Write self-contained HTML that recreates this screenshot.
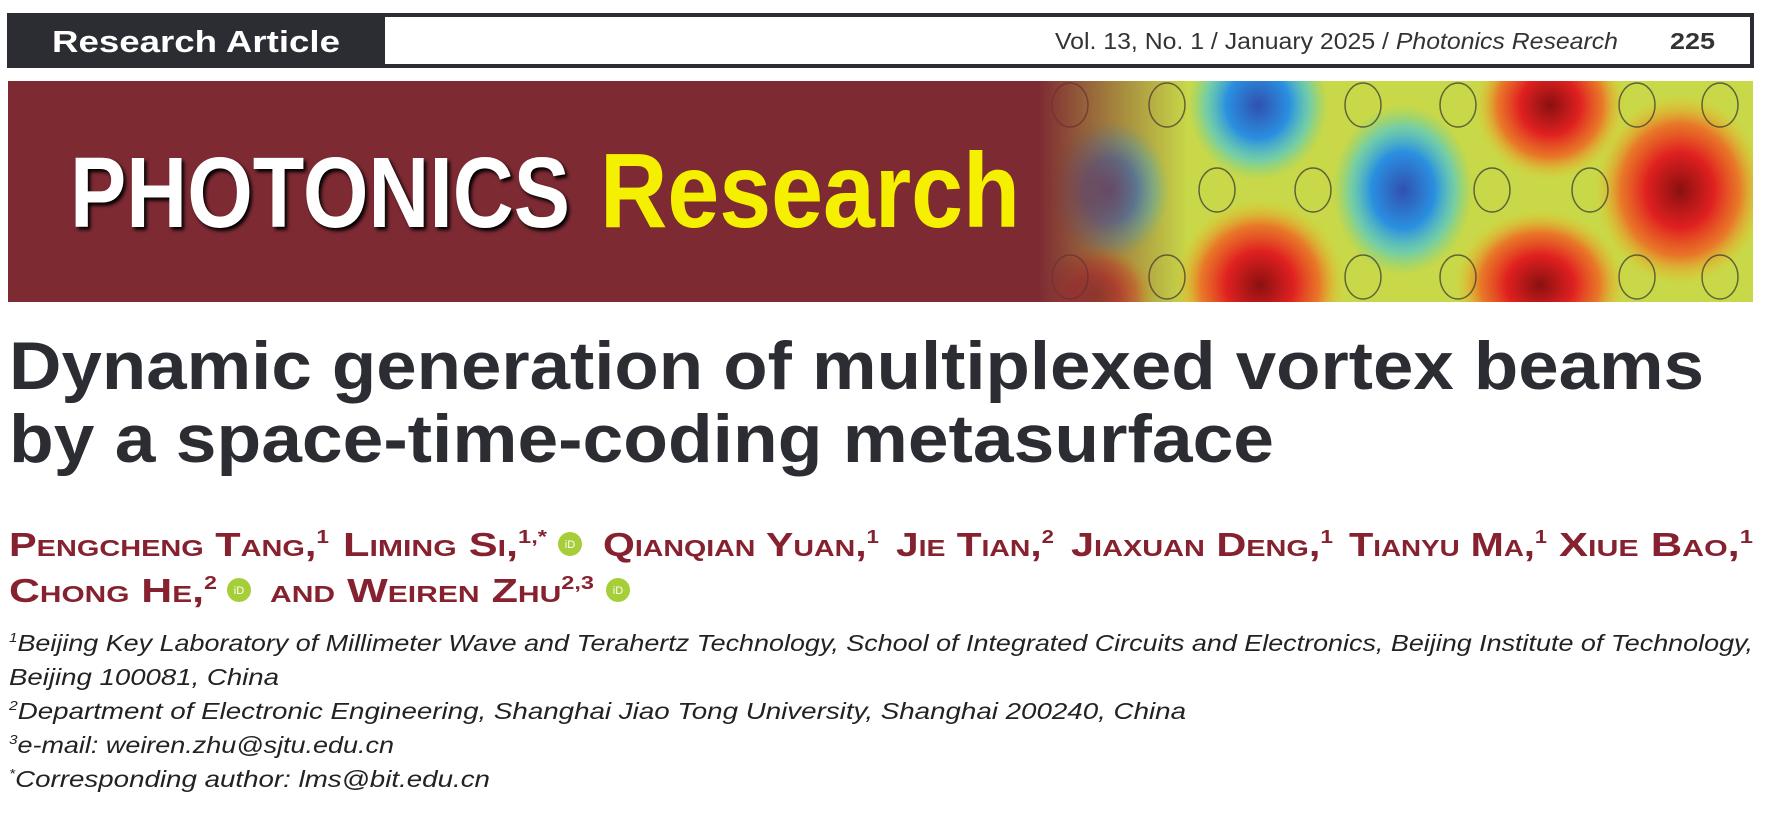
<!DOCTYPE html>
<html><head><meta charset="utf-8"><style>
html,body{margin:0;padding:0;background:#fff;}
svg{display:block}
</style></head><body>
<svg width="1767" height="814" viewBox="0 0 1767 814" xmlns="http://www.w3.org/2000/svg">
<defs>
<radialGradient id="blue"><stop offset="0" stop-color="#3050b0"/><stop offset="0.45" stop-color="#2a8fe0"/><stop offset="0.75" stop-color="#40c8e0" stop-opacity="0.6"/><stop offset="1" stop-color="#60d0a0" stop-opacity="0"/></radialGradient>
<radialGradient id="red"><stop offset="0" stop-color="#8a1010"/><stop offset="0.4" stop-color="#e02020"/><stop offset="0.7" stop-color="#f06020" stop-opacity="0.8"/><stop offset="1" stop-color="#f0c020" stop-opacity="0"/></radialGradient>
<linearGradient id="fade" x1="0" x2="1" y1="0" y2="0"><stop offset="0" stop-color="#7d2a33" stop-opacity="1"/><stop offset="1" stop-color="#7d2a33" stop-opacity="0"/></linearGradient>
<clipPath id="bc"><rect x="8" y="81" width="1745" height="221"/></clipPath>
</defs>
<rect x="7" y="13" width="1747" height="55" fill="#2b2d33"/>
<rect x="385" y="17" width="1365" height="47" fill="#fff"/>
<text x="52" y="52" font-family="Liberation Sans, sans-serif" font-weight="bold" font-size="31" fill="#fff" textLength="288" lengthAdjust="spacingAndGlyphs">Research Article</text>
<text x="1055" y="49" font-family="Liberation Sans, sans-serif" font-size="23" fill="#333" textLength="563" lengthAdjust="spacingAndGlyphs">Vol. 13, No. 1 / January 2025 / <tspan font-style="italic">Photonics Research</tspan></text>
<text x="1670" y="49" font-family="Liberation Sans, sans-serif" font-weight="bold" font-size="23" fill="#333" textLength="45" lengthAdjust="spacingAndGlyphs">225</text>
<rect x="8" y="81" width="1745" height="221" fill="#7d2a33"/>
<g clip-path="url(#bc)">
<rect x="1040" y="81" width="713" height="221" fill="#c8d848"/>
<ellipse cx="1110" cy="190" rx="60" ry="70" fill="url(#blue)" opacity="0.8"/>
<ellipse cx="1258" cy="105" rx="70" ry="75" fill="url(#blue)"/>
<ellipse cx="1403" cy="190" rx="70" ry="85" fill="url(#blue)"/>
<ellipse cx="1550" cy="105" rx="75" ry="75" fill="url(#red)"/>
<ellipse cx="1680" cy="190" rx="85" ry="95" fill="url(#red)"/>
<ellipse cx="1260" cy="285" rx="85" ry="85" fill="url(#red)"/>
<ellipse cx="1540" cy="285" rx="85" ry="75" fill="url(#red)"/>
<ellipse cx="1095" cy="295" rx="60" ry="50" fill="url(#red)" opacity="0.7"/>
<g fill="none" stroke="#333" stroke-width="1.5" opacity="0.7">
<ellipse cx="1070" cy="105" rx="18" ry="22"/><ellipse cx="1167" cy="105" rx="18" ry="22"/><ellipse cx="1363" cy="105" rx="18" ry="22"/><ellipse cx="1458" cy="105" rx="18" ry="22"/><ellipse cx="1637" cy="105" rx="18" ry="22"/><ellipse cx="1720" cy="105" rx="18" ry="22"/>
<ellipse cx="1217" cy="190" rx="18" ry="22"/><ellipse cx="1313" cy="190" rx="18" ry="22"/><ellipse cx="1492" cy="190" rx="18" ry="22"/><ellipse cx="1590" cy="190" rx="18" ry="22"/>
<ellipse cx="1070" cy="277" rx="18" ry="22"/><ellipse cx="1167" cy="277" rx="18" ry="22"/><ellipse cx="1363" cy="277" rx="18" ry="22"/><ellipse cx="1458" cy="277" rx="18" ry="22"/><ellipse cx="1637" cy="277" rx="18" ry="22"/><ellipse cx="1720" cy="277" rx="18" ry="22"/>
</g>
<rect x="1038" y="81" width="150" height="221" fill="url(#fade)"/>
<rect x="1000" y="81" width="40" height="221" fill="#7d2a33"/>
</g>
<text x="70" y="227" font-family="Liberation Sans, sans-serif" font-weight="bold" font-size="100" fill="#fff" textLength="500" lengthAdjust="spacingAndGlyphs" style="text-shadow:3px 3px 4px #000">PHOTONICS</text>
<text x="600" y="227" font-family="Liberation Sans, sans-serif" font-weight="bold" font-size="106" fill="#f5f000" textLength="420" lengthAdjust="spacingAndGlyphs">Research</text>
<g font-family="Liberation Sans, sans-serif" font-weight="bold" font-size="68" fill="#2b2d33">
<text x="9" y="389" textLength="1695" lengthAdjust="spacingAndGlyphs">Dynamic generation of multiplexed vortex beams</text>
<text x="9" y="462" textLength="1265" lengthAdjust="spacingAndGlyphs">by a space-time-coding metasurface</text>
</g>
<g font-family="Liberation Sans, sans-serif" font-weight="bold" font-size="33" fill="#862230" style="font-variant:small-caps">
<text x="9" y="556" textLength="320" lengthAdjust="spacingAndGlyphs">Pengcheng Tang,<tspan font-size="18" dy="-13">1</tspan></text>
<text x="343" y="556" textLength="204" lengthAdjust="spacingAndGlyphs">Liming Si,<tspan font-size="18" dy="-13">1,*</tspan></text>
<text x="603" y="556" textLength="276" lengthAdjust="spacingAndGlyphs">Qianqian Yuan,<tspan font-size="18" dy="-13">1</tspan></text>
<text x="896" y="556" textLength="158" lengthAdjust="spacingAndGlyphs">Jie Tian,<tspan font-size="18" dy="-13">2</tspan></text>
<text x="1071" y="556" textLength="262" lengthAdjust="spacingAndGlyphs">Jiaxuan Deng,<tspan font-size="18" dy="-13">1</tspan></text>
<text x="1349" y="556" textLength="198" lengthAdjust="spacingAndGlyphs">Tianyu Ma,<tspan font-size="18" dy="-13">1</tspan></text>
<text x="1559" y="556" textLength="194" lengthAdjust="spacingAndGlyphs">Xiue Bao,<tspan font-size="18" dy="-13">1</tspan></text>
<text x="9" y="602" textLength="208" lengthAdjust="spacingAndGlyphs">Chong He,<tspan font-size="18" dy="-13">2</tspan></text>
<text x="270" y="602" textLength="324" lengthAdjust="spacingAndGlyphs">and Weiren Zhu<tspan font-size="18" dy="-13">2,3</tspan></text>
</g>
<g fill="#a6ce39">
<circle cx="570" cy="544" r="12"/><circle cx="239" cy="590" r="12"/><circle cx="618" cy="590" r="12"/>
</g>
<g font-family="Liberation Sans, sans-serif" font-size="11" fill="#fff" text-anchor="middle">
<text x="570" y="548">iD</text><text x="239" y="594">iD</text><text x="618" y="594">iD</text>
</g>
<g font-family="Liberation Sans, sans-serif" font-style="italic" font-size="23" fill="#222">
<text x="9" y="651" textLength="1744" lengthAdjust="spacingAndGlyphs"><tspan font-size="13" dy="-9">1</tspan><tspan dy="9">Beijing Key Laboratory of Millimeter Wave and Terahertz Technology, School of Integrated Circuits and Electronics, Beijing Institute of Technology,</tspan></text>
<text x="9" y="685" textLength="270" lengthAdjust="spacingAndGlyphs">Beijing 100081, China</text>
<text x="9" y="719" textLength="1177" lengthAdjust="spacingAndGlyphs"><tspan font-size="13" dy="-9">2</tspan><tspan dy="9">Department of Electronic Engineering, Shanghai Jiao Tong University, Shanghai 200240, China</tspan></text>
<text x="9" y="753" textLength="385" lengthAdjust="spacingAndGlyphs"><tspan font-size="13" dy="-9">3</tspan><tspan dy="9">e-mail: weiren.zhu@sjtu.edu.cn</tspan></text>
<text x="9" y="787" textLength="481" lengthAdjust="spacingAndGlyphs"><tspan font-size="13" dy="-9">*</tspan><tspan dy="9">Corresponding author: lms@bit.edu.cn</tspan></text>
</g>
</svg>
</body></html>
